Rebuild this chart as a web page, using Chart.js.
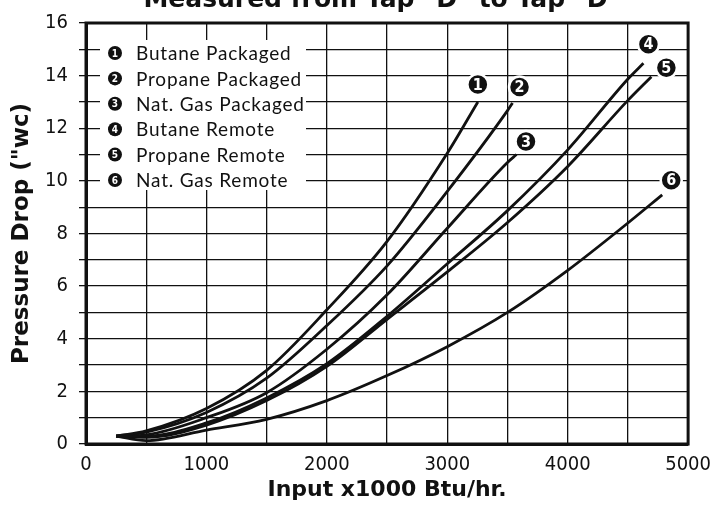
<!DOCTYPE html>
<html>
<head>
<meta charset="utf-8">
<script src="https://cdn.jsdelivr.net/npm/chart.js@4.4.1/dist/chart.umd.min.js"></script>
<style>
  html, body { margin: 0; padding: 0; background: #fff; }
</style>
</head>
<body>
<canvas id="chart" width="720" height="510"></canvas>
<script>
// Dati: x = Input x1000 Btu/hr, y = Pressure Drop ("wc)
const titolo = 'Measured from Tap "D" to Tap "D"';
const titoloX = 'Input x1000 Btu/hr.';
const titoloY = 'Pressure Drop ("wc)';
const nomiSerie = ['Butane Packaged', 'Propane Packaged', 'Nat. Gas Packaged', 'Butane Remote', 'Propane Remote', 'Nat. Gas Remote'];

const butanePackX = [250, 500, 1000, 1500, 2000, 2500, 3000, 3254];
const butanePackY = [0.3, 0.5, 1.35, 2.8, 5.1, 7.7, 11.05, 13.0];
const propanePackX = [250, 500, 1000, 1500, 2000, 2500, 3000, 3500, 3542];
const propanePackY = [0.3, 0.45, 1.2, 2.5, 4.5, 6.77, 9.6, 12.67, 12.96];
const natGasPackX = [250, 500, 1000, 1500, 2000, 2500, 3000, 3500, 3575];
const natGasPackY = [0.3, 0.35, 1.0, 1.95, 3.6, 5.67, 8.2, 10.7, 11.0];
const butaneRemX = [250, 500, 1000, 1500, 2000, 2500, 3000, 3500, 4000, 4500, 4629];
const butaneRemY = [0.3, 0.3, 0.8, 1.75, 3.05, 4.85, 6.85, 8.87, 11.18, 13.87, 14.47];
const propaneRemX = [250, 500, 1000, 1500, 2000, 2500, 3000, 3500, 4000, 4500, 4695];
const propaneRemY = [0.3, 0.25, 0.72, 1.65, 2.95, 4.74, 6.54, 8.42, 10.55, 13.06, 13.96];
const natGasRemX = [250, 500, 1000, 1500, 2000, 2500, 3000, 3500, 4000, 4500, 4785];
const natGasRemY = [0.3, 0.13, 0.53, 0.94, 1.65, 2.6, 3.7, 5.0, 6.6, 8.4, 9.47];

const serieX = [butanePackX, propanePackX, natGasPackX, butaneRemX, propaneRemX, natGasRemX];
const serieY = [butanePackY, propanePackY, natGasPackY, butaneRemY, propaneRemY, natGasRemY];

// Spostamento dei cerchietti numerati rispetto alla fine di ogni curva (px)
const offsetEtichette = [[0, -17.5], [7, -16], [9.5, -13], [5, -19], [15, -9], [9, -14.5]];

const nero = '#111';
const fontCond = "'DejaVu Sans Condensed', 'Liberation Sans Narrow', 'DejaVu Sans', sans-serif";
const fontBold = "'DejaVu Sans', sans-serif";
const fontLegenda = "Lato, 'DejaVu Sans', sans-serif";

const datasets = nomiSerie.map((nome, i) => ({
    label: nome,
    data: serieX[i].map((x, j) => ({ x: x, y: serieY[i][j] })),
    borderColor: nero,
    borderWidth: 2.8,
    pointRadius: 0,
    fill: false,
    cubicInterpolationMode: 'monotone'
}));

// cerchio nero con numero bianco
function cerchio(ctx, x, y, r, n, dimFont, bordo) {
    ctx.beginPath();
    ctx.arc(x, y, r, 0, Math.PI * 2);
    ctx.fillStyle = nero;
    ctx.fill();
    if (bordo) {
        ctx.lineWidth = bordo;
        ctx.strokeStyle = '#fff';
        ctx.stroke();
    }
    ctx.fillStyle = '#fff';
    ctx.font = 'bold ' + dimFont + 'px ' + fontCond;
    ctx.textAlign = 'center';
    ctx.textBaseline = 'middle';
    ctx.fillText(String(n), x, y + 1);
}

const decorazioni = {
    id: 'decorazioni',
    beforeDatasetsDraw(chart) {
        const { ctx, chartArea: a } = chart;
        ctx.save();
        // riquadro della legenda
        ctx.fillStyle = '#fff';
        ctx.fillRect(a.left + 14, a.top + 17, 206, 150);
        nomiSerie.forEach((nome, i) => {
            const y = a.top + 30 + i * 25.4;
            cerchio(ctx, a.left + 29, y, 7, i + 1, 10, 0);
            ctx.fillStyle = nero;
            ctx.font = '19px ' + fontLegenda;
            ctx.textAlign = 'left';
            ctx.textBaseline = 'middle';
            ctx.letterSpacing = '0.8px';
            ctx.fillText(nome, a.left + 50, y + 1);
            ctx.letterSpacing = '0px';
        });
        ctx.restore();
    },
    afterDatasetsDraw(chart) {
        const { ctx, chartArea: a } = chart;
        ctx.save();
        // cornice spessa
        ctx.lineWidth = 3;
        ctx.strokeStyle = nero;
        ctx.strokeRect(a.left, a.top, a.width, a.height);
        // numeri alla fine delle curve
        chart.data.datasets.forEach((ds, i) => {
            const pts = chart.getDatasetMeta(i).data;
            const ultimo = pts[pts.length - 1];
            cerchio(ctx, ultimo.x + offsetEtichette[i][0], ultimo.y + offsetEtichette[i][1], 10.5, i + 1, 16, 2.5);
        });
        // titolo (tagliato in alto come nell'originale)
        ctx.fillStyle = nero;
        ctx.font = 'bold 25px ' + fontBold;
        ctx.textAlign = 'center';
        ctx.textBaseline = 'alphabetic';
        ctx.fillText(titolo, 382, 7);
        ctx.restore();
    }
};

const config = {
    type: 'line',
    data: { datasets },
    options: {
        responsive: false,
        animation: false,
        devicePixelRatio: 1,
        layout: { padding: { top: 18, right: 27, bottom: 0, left: 0 } },
        plugins: {
            legend: { display: false },
            tooltip: { enabled: false }
        },
        scales: {
            x: {
                type: 'linear',
                min: 0,
                max: 5000,
                afterFit: s => { s.height = 66; },
                ticks: {
                    stepSize: 500,
                    autoSkip: false,
                    maxRotation: 0,
                    padding: 9,
                    color: nero,
                    font: { family: fontCond, size: 20 },
                    callback: v => v % 1000 === 0 ? v : ''
                },
                grid: { color: nero, lineWidth: 1.3, drawTicks: false },
                border: { color: nero, width: 3 },
                title: {
                    display: true,
                    text: titoloX,
                    color: nero,
                    font: { family: fontBold, size: 22, weight: 'bold' },
                    padding: { top: 0, bottom: 7 }
                }
            },
            y: {
                min: 0,
                max: 16,
                afterFit: s => { s.width = 86; },
                ticks: {
                    stepSize: 1,
                    autoSkip: false,
                    padding: 11,
                    color: nero,
                    font: { family: fontCond, size: 20 },
                    callback: v => v % 2 === 0 ? v : ''
                },
                grid: { color: nero, lineWidth: 1.3, tickLength: 7 },
                border: { color: nero, width: 3 },
                title: {
                    display: true,
                    text: titoloY,
                    color: nero,
                    font: { family: fontBold, size: 23, weight: 'bold' },
                    padding: { top: 8, bottom: 0 }
                }
            }
        }
    },
    plugins: [decorazioni]
};

const myChart = new Chart(document.getElementById('chart'), config);
</script>
</body>
</html>
